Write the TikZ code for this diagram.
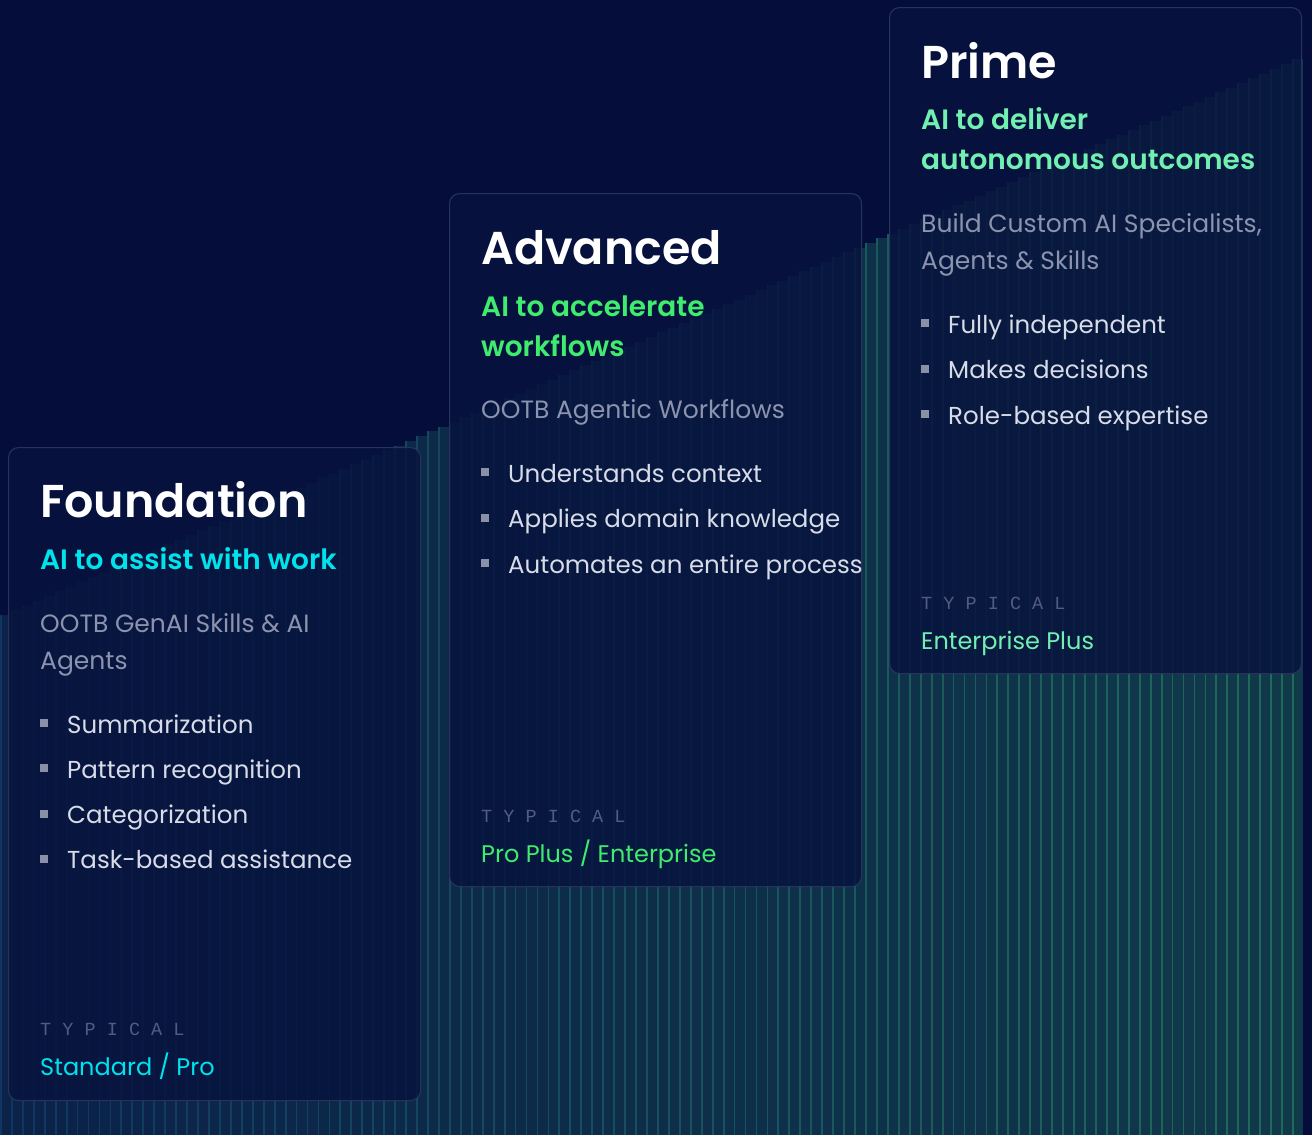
\documentclass[tikz,border=0pt]{standalone}
\usepackage{fontspec}
\setmainfont{Poppins}[BoldFont={Poppins SemiBold}]
\newfontfamily\monofont{Liberation Mono}
\usetikzlibrary{positioning}

\definecolor{bgnavy}{HTML}{050D3A}
\definecolor{cardfill}{HTML}{07133E}
\definecolor{cardline}{HTML}{27335C}
\definecolor{barL}{HTML}{0B2249}
\definecolor{barR}{HTML}{10394A}
\definecolor{lineL}{HTML}{103562}
\definecolor{lineR}{HTML}{1F6B58}
\definecolor{tiercyan}{HTML}{00E2EC}
\definecolor{tiergreen}{HTML}{3FEC6E}
\definecolor{tiermint}{HTML}{72F0B2}
\definecolor{descgray}{HTML}{8B93AE}
\definecolor{itemgray}{HTML}{D8DCE8}
\definecolor{dotgray}{HTML}{8A90A8}
\definecolor{typgray}{HTML}{535C80}

\tikzset{
  card/.style={draw=cardline, line width=1.1pt, rounded corners=10pt,
    fill=cardfill, fill opacity=0.84, anchor=north west, inner sep=0pt},
  every node/.append style={inner sep=0pt, anchor=base west},
  tiername/.style={text=white, font=\fontsize{46}{56}\selectfont\bfseries},
  tagline/.style={font=\fontsize{28}{40}\selectfont\bfseries},
  desc/.style={text=descgray, font=\fontsize{25}{37}\selectfont},
  item/.style={text=itemgray, font=\fontsize{24.5}{30}\selectfont},
  dot/.style={fill=dotgray, minimum size=8pt, anchor=center},
  typlabel/.style={text=typgray, font=\monofont\fontsize{18.5}{20}\selectfont},
  plan/.style={font=\fontsize{24}{30}\selectfont}
}

\begin{document}
\begin{tikzpicture}[x=1pt,y=-1pt]
\useasboundingbox (0,0) rectangle (1312,1135);
\fill[bgnavy] (0,0) rectangle (1312,1135);

% rising bars
\foreach \i in {0,...,118} {
  \pgfmathsetmacro\bx{\i*10.95}
  \pgfmathsetmacro\bt{615-0.43*\bx}
  \pgfmathtruncatemacro\p{100*\i/118}
  \colorlet{barnow}{barR!\p!barL}
  \colorlet{linenow}{lineR!\p!lineL}
  \fill[barnow] (\bx,\bt) rectangle (\bx+10.95,1135);
  \fill[linenow] (\bx,\bt) rectangle (\bx+1.8,1135);
}

% cards
\node[card, minimum width=412pt, minimum height=653pt] (foundation) at (8,447) {};
\node[card, minimum width=412pt, minimum height=693pt] (advanced) at (449,193) {};
\node[card, minimum width=412pt, minimum height=666pt] (prime) at (889,7) {};

% Foundation
\node[tiername] (f-name) at (40,517) {Foundation};
\node[tagline, text=tiercyan] (f-tag) at (40,569) {AI to assist with work};
\node[desc] (f-desc1) at (40,632) {OOTB GenAI Skills \& AI};
\node[desc] (f-desc2) at (40,669) {Agents};
\foreach \txt [count=\k] in {Summarization, Pattern recognition, Categorization, Task-based assistance} {
  \node[dot] (f-dot\k) at (44,723+45.3*\k-45.3) {};
  \node[item] (f-item\k) at (67,733+45.3*\k-45.3) {\txt};
}
\node[typlabel] (f-typ) at (40,1035) {T Y P I C A L};
\node[plan, text=tiercyan] (f-plan) at (40,1075) {Standard / Pro};

% Advanced
\node[tiername] (a-name) at (481,264) {Advanced};
\node[tagline, text=tiergreen] (a-tag1) at (481,316) {AI to accelerate};
\node[tagline, text=tiergreen] (a-tag2) at (481,356) {workflows};
\node[desc] (a-desc) at (481,418) {OOTB Agentic Workflows};
\foreach \txt [count=\k] in {Understands context, Applies domain knowledge, Automates an entire process} {
  \node[dot] (a-dot\k) at (485,472+45.5*\k-45.5) {};
  \node[item] (a-item\k) at (508,482+45.5*\k-45.5) {\txt};
}
\node[typlabel] (a-typ) at (481,822) {T Y P I C A L};
\node[plan, text=tiergreen] (a-plan) at (481,862) {Pro Plus / Enterprise};

% Prime
\node[tiername] (p-name) at (921,78) {Prime};
\node[tagline, text=tiermint] (p-tag1) at (921,129) {AI to deliver};
\node[tagline, text=tiermint] (p-tag2) at (921,169) {autonomous outcomes};
\node[desc] (p-desc1) at (921,232) {Build Custom AI Specialists,};
\node[desc] (p-desc2) at (921,269) {Agents \& Skills};
\foreach \txt [count=\k] in {Fully independent, Makes decisions, Role-based expertise} {
  \node[dot] (p-dot\k) at (925,323+45.5*\k-45.5) {};
  \node[item] (p-item\k) at (948,333+45.5*\k-45.5) {\txt};
}
\node[typlabel] (p-typ) at (921,609) {T Y P I C A L};
\node[plan, text=tiermint] (p-plan) at (921,649) {Enterprise Plus};
\end{tikzpicture}
\end{document}
